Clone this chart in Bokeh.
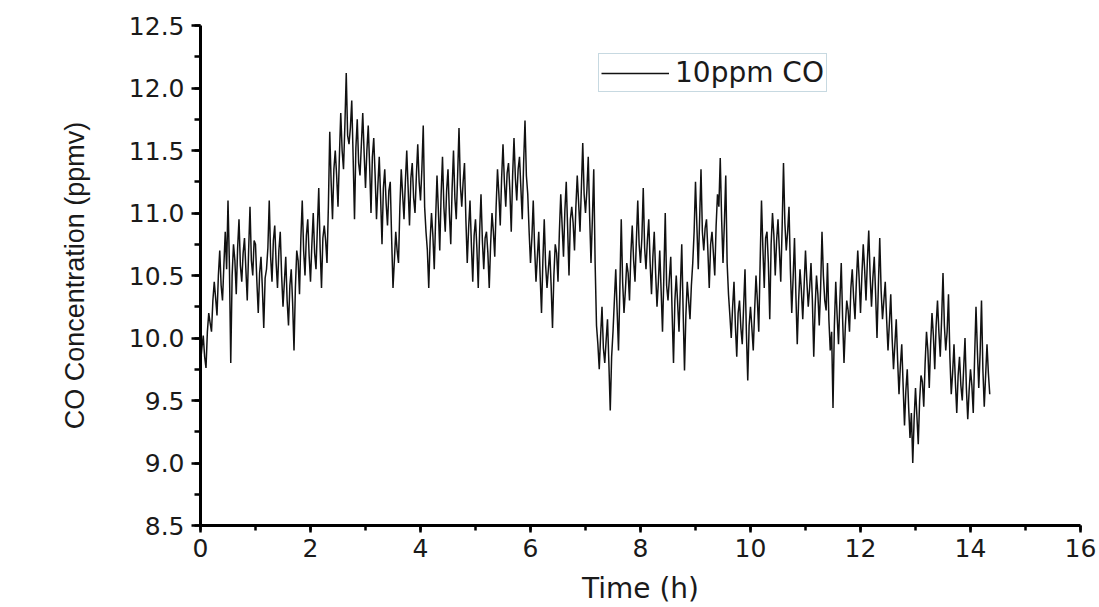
from bokeh.plotting import figure
from bokeh.models import Range1d, Legend, LegendItem, FixedTicker, NumeralTickFormatter
from bokeh.embed import file_html
from bokeh.resources import INLINE

# ---- data ----
time_step_h = 0.025
co_ppmv = [
    9.80, 9.92, 10.02, 9.85, 9.76, 10.05, 10.20, 10.12, 10.05, 10.30,
    10.45, 10.32, 10.18, 10.50, 10.70, 10.42, 10.30, 10.58, 10.85, 10.55,
    11.10, 10.60, 9.80, 10.50, 10.75, 10.62, 10.35, 10.72, 10.95, 10.58,
    10.45, 10.68, 10.80, 10.55, 10.30, 10.70, 11.05, 10.62, 10.50, 10.78,
    10.75, 10.45, 10.20, 10.52, 10.65, 10.40, 10.08, 10.48, 10.55, 10.72,
    11.10, 10.65, 10.45, 10.78, 10.90, 10.60, 10.40, 10.70, 10.85, 10.50,
    10.25, 10.45, 10.65, 10.30, 10.10, 10.42, 10.55, 10.28, 9.90, 10.40,
    10.70, 10.62, 10.35, 10.80, 11.10, 10.70, 10.50, 10.82, 10.95, 10.66,
    10.45, 10.75, 11.00, 10.68, 10.55, 10.88, 11.20, 10.72, 10.40, 10.80,
    10.90, 10.78, 10.60, 11.05, 11.65, 11.25, 10.95, 11.35, 11.50, 11.30,
    11.05, 11.45, 11.80, 11.50, 11.35, 11.70, 12.12, 11.62, 11.55, 11.68,
    11.90, 11.45, 10.95, 11.52, 11.75, 11.40, 11.30, 11.55, 11.80, 11.48,
    11.20, 11.50, 11.70, 11.38, 11.00, 11.45, 11.60, 11.30, 10.95, 11.22,
    11.45, 11.12, 10.75, 11.20, 11.35, 11.08, 10.90, 11.18, 11.25, 10.80,
    10.40, 10.62, 10.85, 10.70, 10.60, 11.05, 11.35, 11.15, 10.95, 11.25,
    11.50, 11.20, 10.90, 11.28, 11.40, 11.12, 11.00, 11.30, 11.55, 11.25,
    11.10, 11.35, 11.70, 11.05, 10.85, 10.70, 10.40, 10.78, 11.00, 10.82,
    10.55, 10.95, 11.30, 11.02, 10.70, 11.15, 11.45, 11.05, 10.85, 11.18,
    11.35, 11.00, 10.75, 11.20, 11.50, 11.12, 10.95, 11.30, 11.68, 11.22,
    11.05, 11.25, 11.40, 10.95, 10.60, 10.88, 11.10, 10.75, 10.45, 10.82,
    10.95, 10.72, 10.40, 10.85, 11.15, 10.78, 10.55, 10.80, 10.85, 10.68,
    10.40, 10.75, 11.00, 10.85, 10.65, 11.05, 11.35, 11.15, 10.90, 11.28,
    11.55, 11.25, 11.05, 11.32, 11.40, 11.18, 10.85, 11.30, 11.60, 11.28,
    11.10, 11.35, 11.45, 11.20, 10.95, 11.40, 11.74, 11.30, 11.15, 10.85,
    10.60, 10.80, 11.10, 10.72, 10.45, 10.65, 10.85, 10.50, 10.20, 10.62,
    10.95, 10.58, 10.40, 10.55, 10.70, 10.42, 10.08, 10.50, 10.75, 10.68,
    10.45, 10.85, 11.15, 10.90, 10.65, 11.02, 11.25, 10.88, 10.50, 10.95,
    11.05, 10.92, 10.70, 11.05, 11.30, 11.08, 10.85, 11.20, 11.56, 11.15,
    11.00, 11.18, 11.45, 10.98, 10.60, 10.95, 11.35, 10.60, 10.10, 9.95,
    9.75, 10.02, 10.25, 9.92, 9.80, 9.98, 10.15, 9.80, 9.42, 9.85,
    10.05, 10.30, 10.55, 10.22, 9.90, 10.40, 10.95, 10.45, 10.20, 10.38,
    10.60, 10.52, 10.30, 10.68, 10.90, 10.62, 10.45, 10.78, 11.10, 10.75,
    10.60, 10.80, 11.20, 10.72, 10.55, 10.78, 10.95, 10.60, 10.35, 10.65,
    10.85, 10.52, 10.25, 10.45, 10.70, 10.38, 10.05, 10.50, 11.00, 10.42,
    10.30, 10.48, 10.65, 10.20, 9.80, 10.30, 10.50, 10.28, 10.05, 10.40,
    10.75, 10.22, 9.74, 10.18, 10.45, 10.30, 10.15, 10.42, 10.60, 10.85,
    11.25, 10.90, 10.55, 10.95, 11.35, 10.85, 10.70, 10.88, 10.95, 10.70,
    10.40, 10.75, 10.85, 10.68, 10.50, 10.90, 11.15, 11.05, 11.44, 10.95,
    10.60, 10.92, 11.30, 10.60, 10.35, 10.18, 10.00, 10.25, 10.45, 10.10,
    9.85, 10.20, 10.30, 10.08, 9.95, 10.25, 10.55, 10.05, 9.66, 10.10,
    10.25, 10.08, 9.90, 10.22, 10.50, 10.30, 10.05, 10.60, 11.10, 10.72,
    10.40, 10.80, 10.85, 10.60, 10.15, 10.75, 11.00, 10.82, 10.50, 10.78,
    10.95, 10.70, 10.45, 10.88, 11.40, 10.92, 10.70, 10.85, 11.05, 10.55,
    10.20, 10.48, 10.80, 10.35, 9.95, 10.30, 10.55, 10.38, 10.15, 10.42,
    10.70, 10.45, 10.25, 10.40, 10.60, 10.30, 9.85, 10.25, 10.50, 10.35,
    10.10, 10.40, 10.85, 10.50, 10.30, 10.22, 10.60, 10.15, 9.90, 10.05,
    9.44, 10.10, 10.45, 10.18, 9.95, 10.30, 10.60, 10.15, 9.80, 10.10,
    10.30, 10.22, 10.05, 10.40, 10.55, 10.32, 10.15, 10.45, 10.70, 10.48,
    10.20, 10.50, 10.75, 10.55, 10.30, 10.62, 10.86, 10.50, 10.25, 10.48,
    10.65, 10.35, 10.00, 10.42, 10.80, 10.38, 10.15, 10.30, 10.45, 10.15,
    9.90, 10.12, 10.35, 10.00, 9.75, 9.95, 10.15, 9.82, 9.55, 9.78,
    9.95, 9.62, 9.30, 9.58, 9.75, 9.45, 9.20, 9.40, 9.00, 9.35,
    9.60, 9.38, 9.15, 9.50, 9.70, 9.65, 9.45, 9.80, 10.05, 9.90,
    9.60, 9.95, 10.20, 10.02, 9.75, 10.10, 10.30, 10.05, 9.85, 10.15,
    10.52, 10.10, 9.90, 10.05, 10.35, 9.85, 9.55, 9.72, 9.95, 9.65,
    9.40, 9.70, 9.85, 9.62, 9.50, 9.75, 10.00, 9.60, 9.35, 9.58,
    9.75, 9.62, 9.40, 9.85, 10.25, 9.90, 9.60, 9.88, 10.30, 9.75,
    9.45, 9.70, 9.95, 9.72, 9.55,
]
time_h = [round(i * time_step_h, 3) for i in range(len(co_ppmv))]
series_label = "10ppm CO"
x_ticks = [0, 2, 4, 6, 8, 10, 12, 14, 16]
y_ticks = [8.5, 9.0, 9.5, 10.0, 10.5, 11.0, 11.5, 12.0, 12.5]

TXT = "#1a1a1a"
TICK_FONT = "DejaVu Sans"

p = figure(width=1099, height=607, output_backend="svg", toolbar_location=None,
           x_range=Range1d(0, 16), y_range=Range1d(8.5, 12.5),
           min_border_left=200, min_border_right=19, min_border_top=25, min_border_bottom=82)
p.outline_line_color = None
p.xgrid.visible = False
p.ygrid.visible = False
p.background_fill_color = "white"

r = p.line(time_h, co_ppmv, line_color="#111111", line_width=1.5)

for ax in (p.xaxis[0], p.yaxis[0]):
    ax.axis_line_color = "black"
    ax.axis_line_width = 3
    ax.major_tick_line_color = "black"
    ax.major_tick_line_width = 2.5
    ax.minor_tick_line_color = "black"
    ax.minor_tick_line_width = 2.5
    ax.major_tick_in = 0
    ax.minor_tick_in = 0
    ax.major_label_text_font = TICK_FONT
    ax.major_label_text_font_size = "25px"
    ax.major_label_text_color = TXT

p.xaxis.ticker = FixedTicker(ticks=x_ticks, minor_ticks=list(range(0, 17)))
p.yaxis.ticker = FixedTicker(ticks=y_ticks, minor_ticks=[8.5 + 0.25 * i for i in range(17)])
p.yaxis.formatter = NumeralTickFormatter(format="0.0")

p.xaxis.major_tick_out = 7
p.xaxis.minor_tick_out = 5
p.xaxis.major_label_standoff = 6
p.yaxis.major_tick_out = 9
p.yaxis.minor_tick_out = 6
p.yaxis.major_label_standoff = 7

p.xaxis.axis_label = "Time (h)"
p.xaxis.axis_label_text_font = TICK_FONT
p.xaxis.axis_label_text_font_size = "28px"
p.xaxis.axis_label_text_font_style = "normal"
p.xaxis.axis_label_text_color = TXT
p.xaxis.axis_label_standoff = 12

p.yaxis.axis_label = "CO Concentration (ppmv)"
p.yaxis.axis_label_text_font = "Liberation Sans"
p.yaxis.axis_label_text_font_size = "27px"
p.yaxis.axis_label_text_font_style = "normal"
p.yaxis.axis_label_text_color = TXT
p.yaxis.axis_label_standoff = 36

legend = Legend(items=[LegendItem(label=series_label, renderers=[r])],
                location=(398, 433), orientation="vertical")
legend.label_text_font = TICK_FONT
legend.label_text_font_size = "28px"
legend.label_text_color = TXT
legend.glyph_width = 68
legend.glyph_height = 22
legend.label_standoff = 6
legend.padding = 2
legend.margin = 0
legend.spacing = 0
legend.border_line_color = "#8fb3c4"
legend.border_line_width = 1.5
legend.background_fill_alpha = 1.0
p.add_layout(legend, "center")

open("out.html", "w").write(file_html(p, INLINE))
